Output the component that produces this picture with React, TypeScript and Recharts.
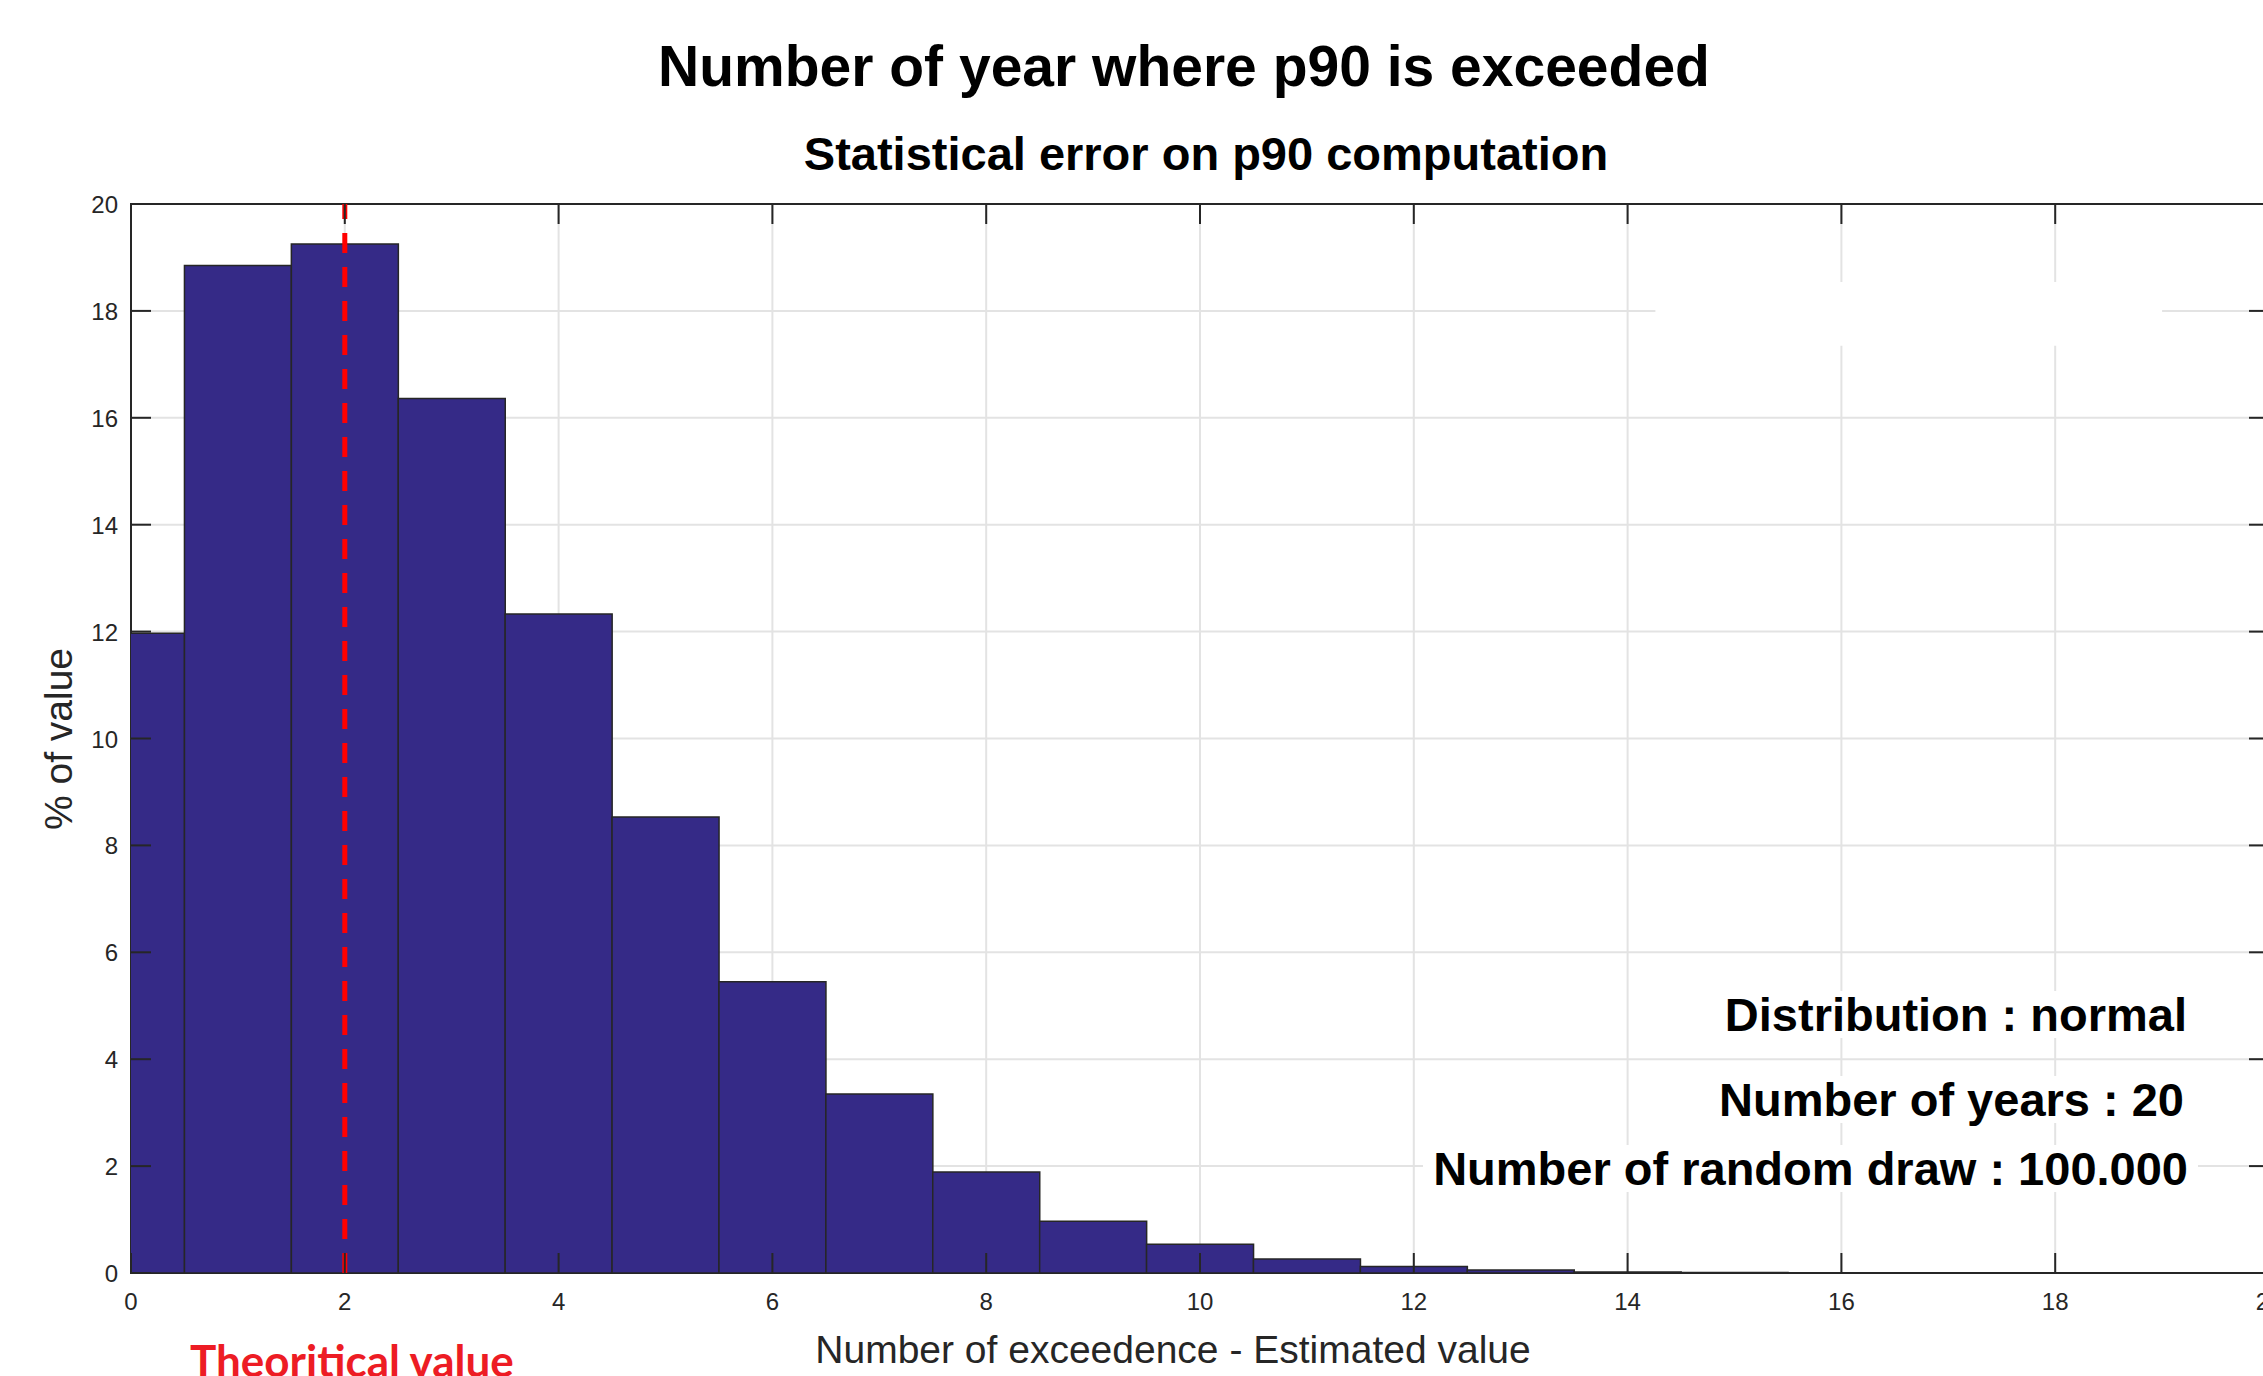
import React from 'react';
import {
  ComposedChart, Bar, XAxis, YAxis, CartesianGrid, ReferenceLine, ReferenceArea
} from 'recharts';

// histogram bins (number of exceedences) and share of draws in %
const binCenters = [0, 1, 2, 3, 4, 5, 6, 7, 8, 9, 10, 11, 12, 13, 14, 15, 16, 17, 18, 19];
const pctOfValue = [
  11.97, 18.85, 19.25, 16.36, 12.33, 8.53, 5.45, 3.35, 1.89, 0.97,
  0.54, 0.26, 0.12, 0.055, 0.02, 0.008, 0.003, 0.0015, 0.0008, 0.0004
];
const xTicks = [0, 2, 4, 6, 8, 10, 12, 14, 16, 18, 20];
const yTicks = [0, 2, 4, 6, 8, 10, 12, 14, 16, 18, 20];
const theoreticalValue = 2;

const annotations = [
  'Distribution : normal',
  'Number of years : 20',
  'Number of random draw : 100.000'
];

const data = binCenters.map((x, i) => ({ x, pct: pctOfValue[i] }));

const W = 2263;
const H = 1376;
const CHART_W = 2300;
const PLOT_LEFT = 131;
const PLOT_TOP = 204;
const PLOT_RIGHT = 2269;
const PLOT_BOTTOM = 1273;
const PLOT_W = PLOT_RIGHT - PLOT_LEFT;
const PLOT_H = PLOT_BOTTOM - PLOT_TOP;

const AXIS = '#262626';
const FONT = '"Liberation Sans", Arial, Helvetica, sans-serif';

// MATLAB style: ticks point inward, on both sides of the box
const XTick = (props: any) => {
  const { x, y, payload } = props;
  return (
    <g>
      <line x1={x} y1={y} x2={x} y2={y - 20} stroke={AXIS} strokeWidth={2} />
      <line x1={x} y1={y - PLOT_H} x2={x} y2={y - PLOT_H + 20} stroke={AXIS} strokeWidth={2} />
      <text x={x} y={y + 37} textAnchor="middle" fontSize={24} fill={AXIS} fontFamily={FONT}>
        {payload.value}
      </text>
    </g>
  );
};

const YTick = (props: any) => {
  const { x, y, payload } = props;
  return (
    <g>
      <line x1={x} y1={y} x2={x + 20} y2={y} stroke={AXIS} strokeWidth={2} />
      <line x1={x + PLOT_W} y1={y} x2={x + PLOT_W - 20} y2={y} stroke={AXIS} strokeWidth={2} />
      <text x={x - 13} y={y + 9} textAnchor="end" fontSize={24} fill={AXIS} fontFamily={FONT}>
        {payload.value}
      </text>
    </g>
  );
};

const annotationPos = [
  { right: 66, top: 991 },
  { right: 69, top: 1076 },
  { right: 65, top: 1145 }
];

export default function App() {
  return (
    <div style={{ position: 'absolute', left: 0, top: 0, width: W, height: H, overflow: 'hidden', background: '#fff' }}>
      <ComposedChart
        width={CHART_W}
        height={H}
        data={data}
        margin={{ top: PLOT_TOP, left: PLOT_LEFT - 1, right: CHART_W - PLOT_RIGHT, bottom: H - PLOT_BOTTOM - 1 }}
        barCategoryGap={0}
        barGap={0}
      >
        <CartesianGrid stroke="#e3e3e3" strokeWidth={2} horizontalValues={yTicks} verticalValues={xTicks} />
        <XAxis
          type="number"
          dataKey="x"
          domain={[0, 20]}
          ticks={xTicks}
          interval={0}
          allowDataOverflow
          height={1}
          tickSize={0}
          tickMargin={0}
          axisLine={false}
          tick={(p: any) => <XTick {...p} />}
        />
        <YAxis
          type="number"
          domain={[0, 20]}
          ticks={yTicks}
          interval={0}
          allowDataOverflow
          width={1}
          tickSize={0}
          tickMargin={0}
          axisLine={false}
          tick={(p: any) => <YTick {...p} />}
        />
        {/* blanked-out legend box */}
        <ReferenceArea x1={14.26} x2={19} y1={17.35} y2={18.54} fill="#ffffff" fillOpacity={1} stroke="none" />
        <Bar dataKey="pct" fill="#352A87" stroke={AXIS} strokeWidth={1.5} isAnimationActive={false} />
        <ReferenceLine
          segment={[{ x: theoreticalValue, y: 0 }, { x: theoreticalValue, y: 20 }]}
          stroke="#ff0000"
          strokeWidth={5}
          strokeDasharray="20 14"
        />
        <ReferenceArea x1={0} x2={20} y1={0} y2={20} fill="none" stroke={AXIS} strokeWidth={2} />
      </ComposedChart>

      <svg width={W} height={H} style={{ position: 'absolute', left: 0, top: 0, pointerEvents: 'none' }}>
        <text x={1184} y={86} textAnchor="middle" fontSize={57} fontWeight="bold" fontFamily={FONT} fill="#000">
          Number of year where p90 is exceeded
        </text>
        <text x={1206} y={170} textAnchor="middle" fontSize={47} fontWeight="bold" fontFamily={FONT} fill="#000">
          Statistical error on p90 computation
        </text>
        <text x={1173} y={1363} textAnchor="middle" fontSize={39} fontFamily={FONT} fill={AXIS}>
          Number of exceedence - Estimated value
        </text>
        <text x={72} y={739} textAnchor="middle" fontSize={39} fontFamily={FONT} fill={AXIS} transform="rotate(-90 72 739)">
          % of value
        </text>
        <text x={190} y={1377} fontSize={44} fontWeight="bold" fontFamily="Lato, 'Open Sans', sans-serif" fill="#ED1C24">
          Theoritical value
        </text>
      </svg>

      {annotations.map((t, i) => (
        <div
          key={t}
          style={{
            position: 'absolute',
            right: annotationPos[i].right,
            top: annotationPos[i].top,
            background: '#fff',
            padding: '0 10px',
            fontFamily: FONT,
            fontWeight: 'bold',
            fontSize: 47,
            lineHeight: '47px',
            color: '#000',
            whiteSpace: 'nowrap'
          }}
        >
          {t}
        </div>
      ))}
    </div>
  );
}
